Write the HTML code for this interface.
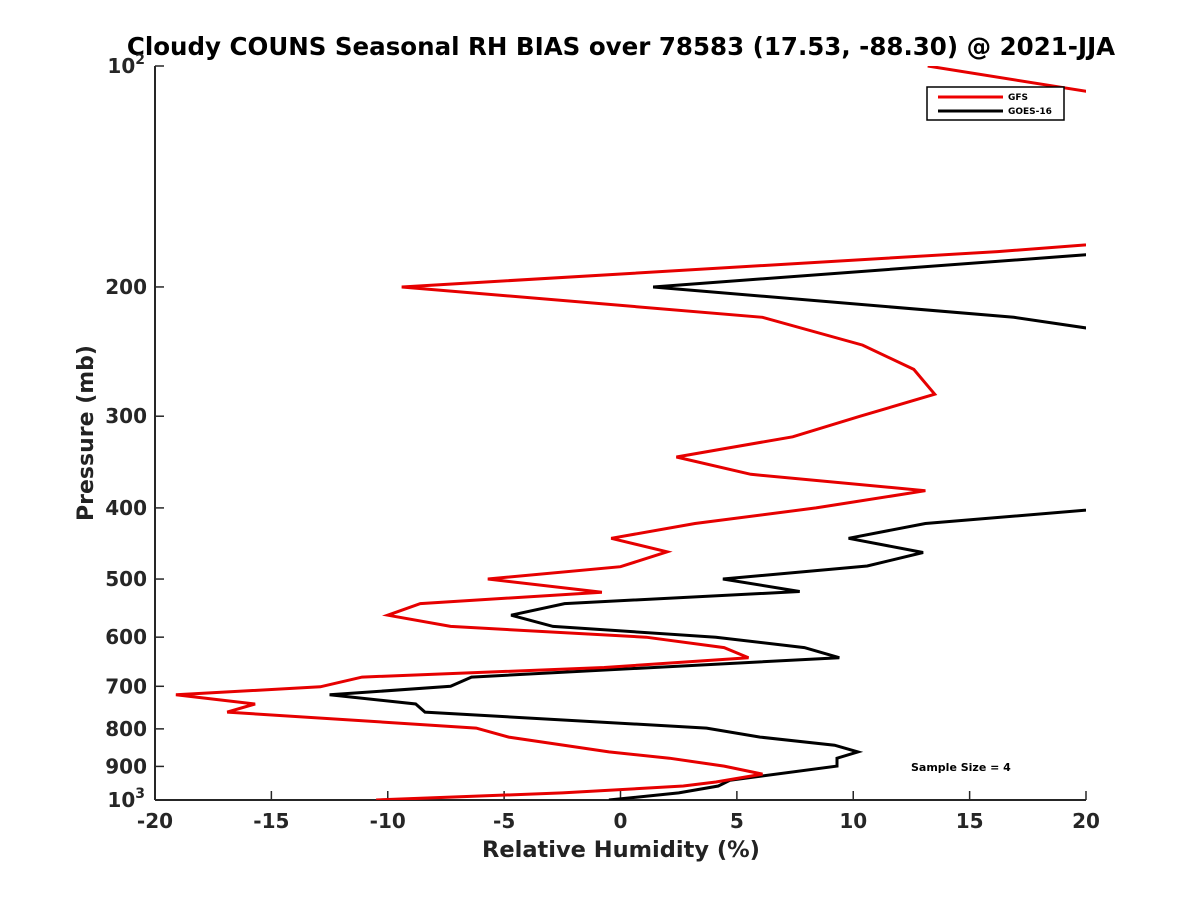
<!DOCTYPE html>
<html><head><meta charset="utf-8"><style>
body{margin:0;background:#fff;}
svg{display:block;font-family:"DejaVu Sans","Liberation Sans",sans-serif;font-weight:bold;}
</style></head><body>
<svg id="chart" width="1200" height="900" viewBox="0 0 1200 900">
<rect width="1200" height="900" fill="#fff"/>
<text x="621" y="55" font-size="24.5" text-anchor="middle" fill="#000">Cloudy COUNS Seasonal RH BIAS over 78583 (17.53, -88.30) @ 2021-JJA</text>
<defs><clipPath id="plotclip"><rect x="155" y="66" width="931" height="734"/></clipPath></defs>
<g id="axes"></g>
<g id="series" clip-path="url(#plotclip)"></g>
<text x="621" y="857" font-size="22.5" text-anchor="middle" fill="#222">Relative Humidity (%)</text>
<text transform="translate(93,433) rotate(-90)" font-size="22" text-anchor="middle" fill="#222">Pressure (mb)</text>
<g>
<rect x="927" y="87" width="137" height="33" fill="#fff" stroke="#000" stroke-width="1.5"/>
<line x1="938" y1="97" x2="1003" y2="97" stroke="#e00" stroke-width="3"/>
<text x="1008" y="100" font-size="9">GFS</text>
<line x1="938" y1="111" x2="1003" y2="111" stroke="#000" stroke-width="3"/>
<text x="1008" y="114" font-size="9">GOES-16</text>
</g>
<text x="911" y="771" font-size="11">Sample Size = 4</text>
</svg>
<script>
const xTicks=[-20,-15,-10,-5,0,5,10,15,20];
const yTicks=[100,200,300,400,500,600,700,800,900,1000];
const yTickLabels=["10","200","300","400","500","600","700","800","900","10"];
const gfsPressure=[100,150,179,200,220,240,259,280,300,320,341,360,379,400,420,440,459,481,500,521,540,560,580,600,620,640,660,680,701,719,740,759,798,821,860,877,899,922,945,957,978,1000];
const gfsValues=[13.2,48,16.2,-9.4,6.1,10.4,12.6,13.5,10.3,7.4,2.4,5.6,13.1,8.4,3.2,-0.4,2.0,0.0,-5.7,-0.8,-8.6,-10.0,-7.3,1.1,4.45,5.5,-0.7,-11.1,-12.9,-19.1,-15.7,-16.9,-6.2,-4.8,-0.5,2.1,4.45,6.1,4.1,2.7,-2.5,-10.5];
const goesPressure=[100,150,179,200,220,240,280,340,379,420,440,460,480,500,520,540,560,580,600,620,640,680,700,719,740,759,798,821,842,860,877,899,940,957,978,1000];
const goesValues=[40,45,21.8,1.4,16.9,25,30,27,30,13.1,9.8,13.0,10.6,4.4,7.7,-2.4,-4.7,-2.9,4.1,7.9,9.4,-6.4,-7.3,-12.5,-8.8,-8.4,3.7,6.0,9.2,10.2,9.3,9.3,4.7,4.2,2.5,-0.5];
const NS="http://www.w3.org/2000/svg";
const X0=155,X1=1086,Y0=66,Y1=800;
function xs(v){return X0+(v+20)/40*(X1-X0);}
function ys(p){return Y0+(Math.log10(p)-2)*(Y1-Y0);}
function mk(tag,attrs,parent){const e=document.createElementNS(NS,tag);for(const k in attrs)e.setAttribute(k,attrs[k]);parent.appendChild(e);return e;}
const axes=document.getElementById('axes');
const yl=mk('line',{x1:X0,y1:Y0,x2:X0,y2:Y1,stroke:'#262626','stroke-width':2},axes);


const xl=mk('line',{x1:X0,y1:Y1,x2:X1,y2:Y1,stroke:'#262626','stroke-width':2},axes);


xTicks.forEach(v=>{
 const t=mk('line',{x1:xs(v),y1:Y1,x2:xs(v),y2:Y1-9,stroke:'#262626','stroke-width':1.5},axes);
 
 
 const l=mk('text',{x:xs(v),y:Y1+28,'font-size':20,'text-anchor':'middle',fill:'#262626'},axes);
 l.textContent=String(v);
 
 
});
yTicks.forEach((p,i)=>{
 const t=mk('line',{x1:X0,y1:ys(p),x2:X0+9,y2:ys(p),stroke:'#262626','stroke-width':1.5},axes);
 
 
 const l=mk('text',{x:X0-8,y:ys(p)+7,'font-size':20,'text-anchor':'end',fill:'#262626'},axes);
 
 
 if(p===100||p===1000){
  l.setAttribute('x',X0-10);
  l.textContent=yTickLabels[i];
  const s=mk('tspan',{dy:-9,'font-size':14},l);
  s.textContent=(p===100?'2':'3');
 } else l.textContent=yTickLabels[i];
});
const sg=document.getElementById('series');
function draw(pres,vals,color,name){
 const pts=pres.map((p,i)=>xs(vals[i]).toFixed(1)+','+ys(p).toFixed(1)).join(' ');
 const pl=mk('polyline',{points:pts,fill:'none',stroke:color,'stroke-width':3,'stroke-linejoin':'miter'},sg);
 
 
}
draw(goesPressure,goesValues,'#000','goes16-line');
draw(gfsPressure,gfsValues,'#e60000','gfs-line');
</script>
</body></html>
